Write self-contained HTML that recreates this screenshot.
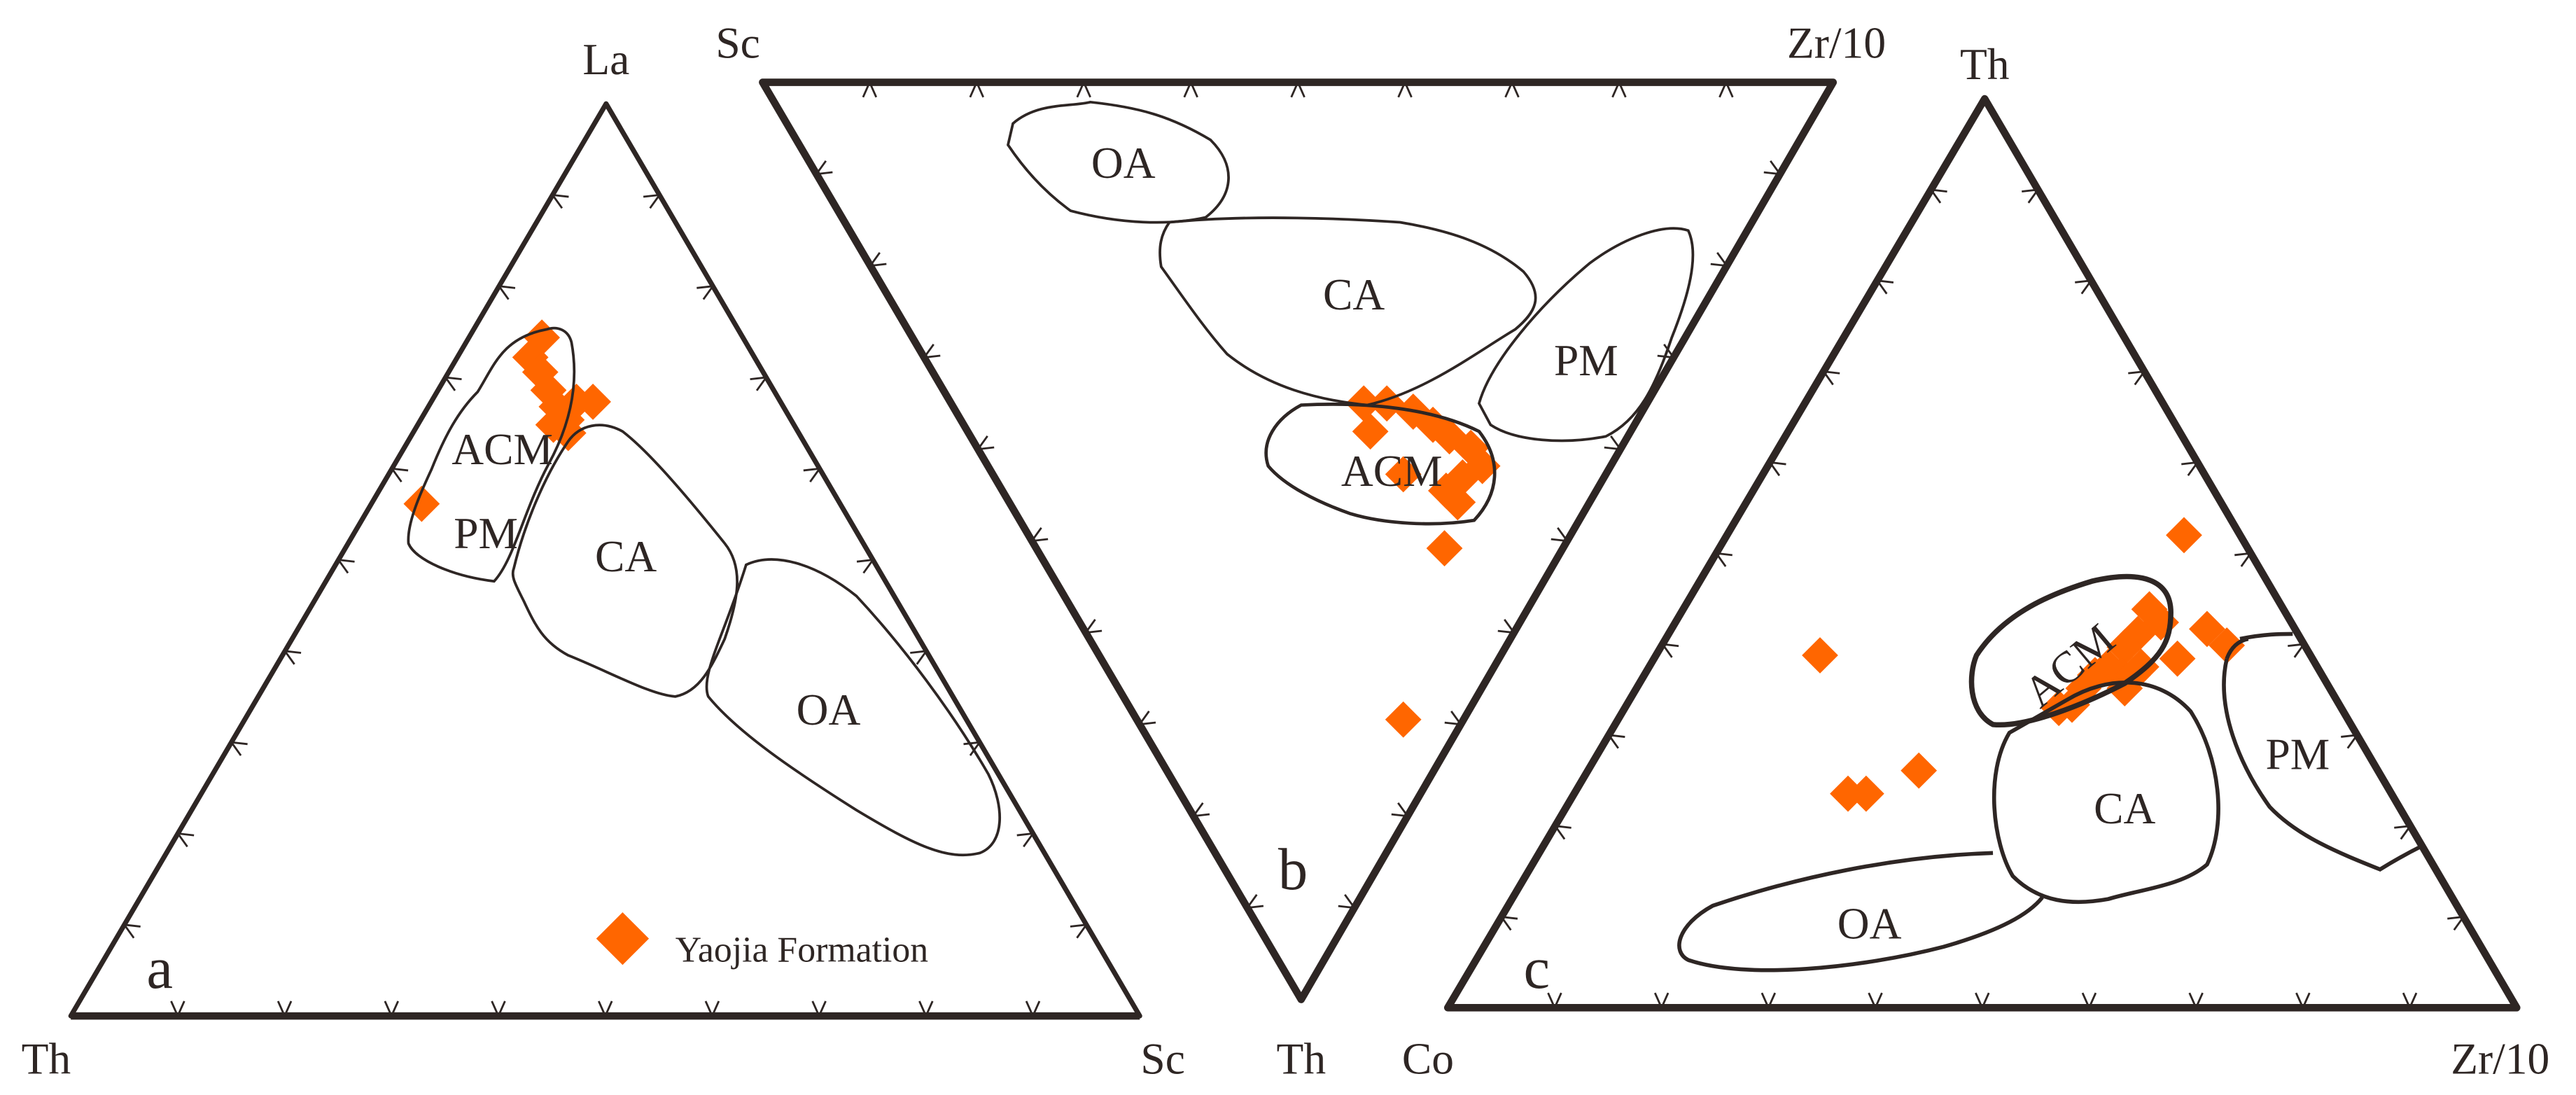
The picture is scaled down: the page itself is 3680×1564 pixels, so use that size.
<!DOCTYPE html>
<html><head><meta charset="utf-8"><style>
html,body{margin:0;padding:0;background:#fff;}
svg{display:block;}
text{font-family:"Liberation Serif",serif;fill:#2e2624;}
</style></head><body>
<svg id="s" width="3680" height="1564" viewBox="0 0 1564 665" preserveAspectRatio="none" xmlns="http://www.w3.org/2000/svg">
<g fill="none" stroke="#2e2624" stroke-linejoin="round">
<!-- triangle a -->
<path d="M368,63 L43,617 L692,617 Z" stroke-width="3"/>
<path d="M43,617 L692,617" stroke-width="4.5"/>
<!-- triangle b -->
<path d="M463,50 L1113,50 L790,607 Z" stroke-width="4.5"/>
<!-- triangle c -->
<path d="M1205,60 L879,612 L1528,612 Z" stroke-width="4.5"/>
</g>
<g id="ticks" fill="none" stroke="#2e2624" stroke-width="1.2"></g>
<g id="dia" fill="#ff6600"></g>
<g fill="none" stroke="#2e2624" stroke-width="1.6">
<!-- a fields -->
<path d="M332,200 C305,205 300,222 290,238 C278,250 270,265 262,285 C255,300 247,318 248,330 C252,340 275,350 300,353 C312,340 318,310 333,282 C345,260 352,235 347,208 C345,200 338,198 332,200 Z"/>
<path d="M312,345 C318,320 330,290 345,268 C352,258 365,255 378,262 C395,275 420,305 440,330 C452,345 448,365 440,388 C432,405 425,420 410,423 C395,422 370,408 345,398 C330,390 325,380 318,365 C313,355 310,350 312,345 Z"/>
<path d="M453,343 C470,335 495,342 520,362 C548,392 578,432 600,470 C610,490 610,512 595,518 C575,523 555,513 520,492 C482,468 448,445 430,423 C425,410 440,385 453,343 Z"/>
<!-- b fields -->
<path d="M615,75 C630,62 650,65 662,62 C690,65 710,70 735,85 C750,100 750,118 732,132 C710,137 680,136 650,128 C632,115 620,100 612,88 Z"/>
<path d="M710,135 C760,130 820,133 850,135 C880,140 905,148 925,165 C938,180 932,190 920,200 C895,215 865,238 830,246 C800,243 770,235 745,215 C730,198 718,180 705,162 C703,150 705,142 710,135 Z"/>
<path d="M898,245 C905,220 935,185 965,160 C985,145 1010,135 1025,140 C1032,155 1025,180 1015,205 C1005,235 995,255 975,265 C950,270 920,268 905,258 Z"/>
<path d="M790,246 C830,244 870,248 898,262 C912,280 910,300 895,316 C870,320 840,318 820,312 C800,305 780,295 770,283 C765,268 775,254 790,246 Z" stroke-width="2"/>
<!-- c fields -->
<path d="M1200,398 C1215,375 1240,362 1270,353 C1300,346 1318,352 1318,372 C1318,390 1312,400 1290,415 C1265,428 1230,442 1210,440 C1195,432 1195,410 1200,398 Z" stroke-width="3.2"/>
<path d="M1255,425 C1280,410 1310,410 1330,432 C1348,460 1352,500 1340,525 C1325,538 1300,540 1280,546 C1258,550 1238,548 1222,532 C1210,512 1205,470 1220,445 Z" stroke-width="2.4"/>
<path d="M1360,388 C1375,385 1385,385 1392,385 M1352,400 C1345,430 1360,465 1378,490 C1395,508 1420,518 1445,528 C1458,520 1466,516 1470,514" stroke-width="2.4"/>
<path d="M1352,400 C1355,392 1360,389 1365,388" stroke-width="2.4"/>
<path d="M1210,518 C1150,520 1090,533 1040,550 C1018,562 1015,578 1025,583 C1060,595 1130,588 1180,575 C1215,565 1232,555 1240,545" stroke-width="2.4"/>
</g>
<g font-size="27">
<text x="368" y="45" text-anchor="middle">La</text>
<text x="448" y="35" text-anchor="middle">Sc</text>
<text x="1115" y="35" text-anchor="middle">Zr/10</text>
<text x="1205" y="48" text-anchor="middle">Th</text>
<text x="28" y="652" text-anchor="middle">Th</text>
<text x="706" y="652" text-anchor="middle">Sc</text>
<text x="790" y="652" text-anchor="middle">Th</text>
<text x="867" y="652" text-anchor="middle">Co</text>
<text x="1518" y="652" text-anchor="middle">Zr/10</text>
<text x="305" y="282" text-anchor="middle">ACM</text>
<text x="295" y="333" text-anchor="middle">PM</text>
<text x="380" y="347" text-anchor="middle">CA</text>
<text x="503" y="440" text-anchor="middle">OA</text>
<text x="682" y="108" text-anchor="middle">OA</text>
<text x="822" y="188" text-anchor="middle">CA</text>
<text x="963" y="228" text-anchor="middle">PM</text>
<text x="845" y="295" text-anchor="middle">ACM</text>
<text x="1257" y="413" text-anchor="middle" transform="rotate(-40 1257 405)">ACM</text>
<text x="1290" y="500" text-anchor="middle">CA</text>
<text x="1395" y="467" text-anchor="middle">PM</text>
<text x="1135" y="570" text-anchor="middle">OA</text>
</g>
<g font-size="36">
<text x="97" y="600" text-anchor="middle">a</text>
<text x="785" y="540" text-anchor="middle">b</text>
<text x="933" y="600" text-anchor="middle">c</text>
</g>
<text x="410" y="584" font-size="22">Yaojia Formation</text>
</svg>
<script>
var NS="http://www.w3.org/2000/svg";
var tk=document.getElementById('ticks'),dg=document.getElementById('dia');
function tri(A,B,C){
 var E=[[A,B,C],[B,C,A],[C,A,B]];
 E.forEach(function(e){var P=e[0],Q=e[1],R=e[2];
  var cx=(A[0]+B[0]+C[0])/3,cy=(A[1]+B[1]+C[1])/3;
  for(var k=1;k<10;k++){var t=k/10,x=P[0]+(Q[0]-P[0])*t,y=P[1]+(Q[1]-P[1])*t;
   var dx=Q[0]-P[0],dy=Q[1]-P[1],L=Math.hypot(dx,dy);var nx=-dy/L,ny=dx/L;
   if((cx-x)*nx+(cy-y)*ny<0){nx=-nx;ny=-ny;}
   var ux=dx/L,uy=dy/L,s=9,w=4;
   var d="M"+(x+nx*s+ux*w)+","+(y+ny*s+uy*w)+" L"+x+","+y+" L"+(x+nx*s-ux*w)+","+(y+ny*s-uy*w);
   var p=document.createElementNS(NS,'path');p.setAttribute('d',d);tk.appendChild(p);}
 });
}
tri([368,63],[43,617],[692,617]);
tri([463,50],[1113,50],[790,607]);
tri([1205,60],[879,612],[1528,612]);
function D(x,y,r){r=r||11;var p=document.createElementNS(NS,'path');
 p.setAttribute('d','M'+x+','+(y-r)+' L'+(x+r)+','+y+' L'+x+','+(y+r)+' L'+(x-r)+','+y+'Z');dg.appendChild(p);}
[[329,205],[322,217],[328,226],[333,237],[338,247],[344,255],[350,244],[360,244],[345,263],[336,258],[256,306],
 [828,245],[842,245],[858,250],[870,258],[880,265],[893,272],[900,283],[888,290],[878,298],[885,305],[852,288],[832,262],[877,333],[852,437],
 [1326,325],[1105,398],[1165,468],[1122,482],[1133,482],
 [1305,370],[1298,385],[1312,378],[1290,393],[1280,405],[1272,410],[1288,410],[1300,405],[1322,400],[1340,382],[1352,392],[1265,418],[1250,430],[1258,428],[1290,418],[1295,410]
].forEach(function(a){D(a[0],a[1]);});
D(378,570,16);
</script>
</body></html>
